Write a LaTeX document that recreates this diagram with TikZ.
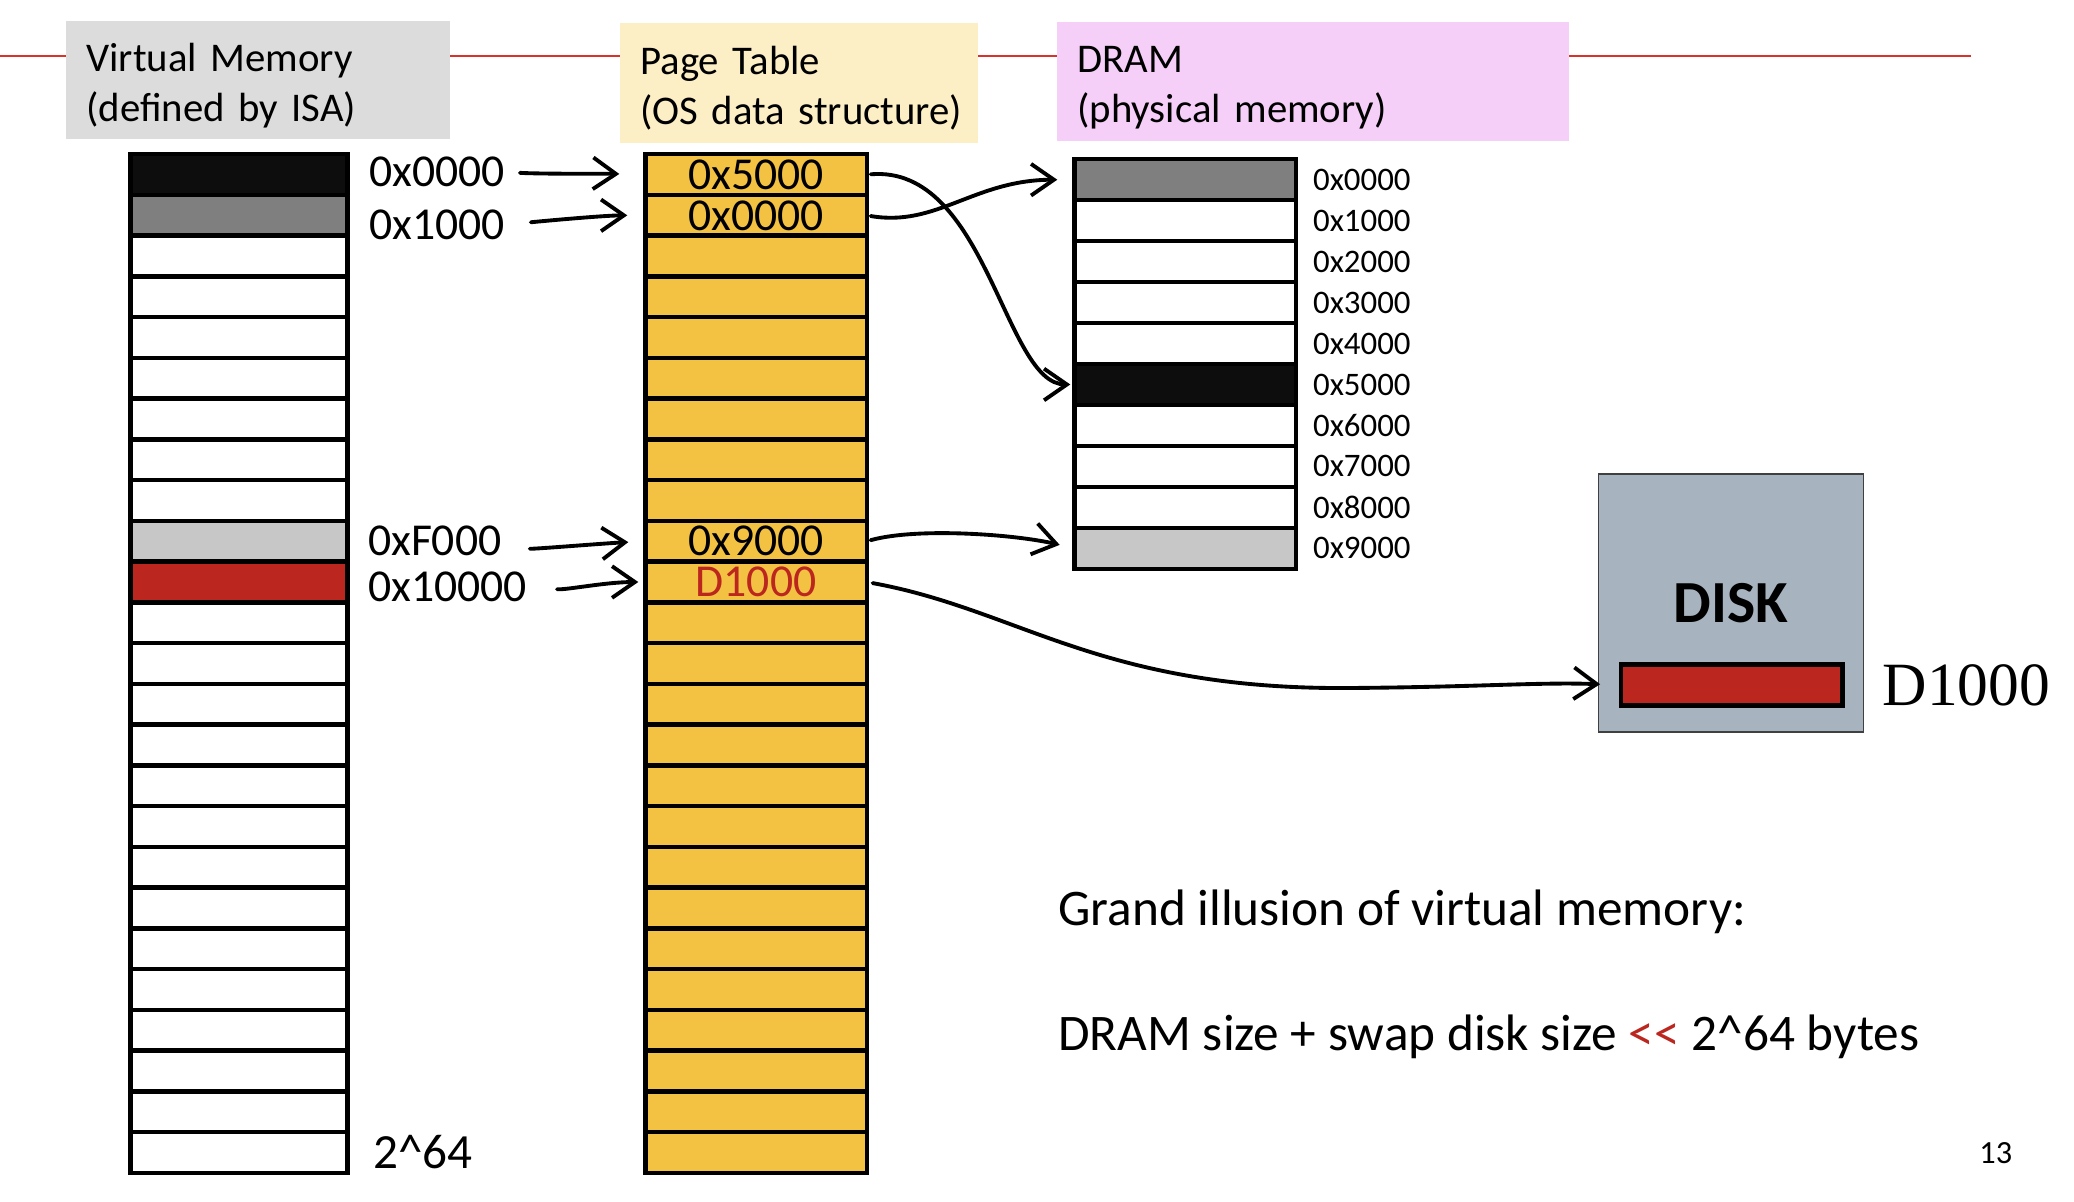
\documentclass[tikz,border=0pt]{standalone}
\usepackage{fontspec}
\setmainfont{Carlito}
\newfontfamily\timesfont{Liberation Serif}
\usepackage{tikz}
\usetikzlibrary{arrows.meta,positioning}
\definecolor{memred}{HTML}{BB271F}
\definecolor{ptgold}{HTML}{F4C243}
\definecolor{vmblack}{HTML}{0D0D0D}
\definecolor{vmdark}{HTML}{7F7F7F}
\definecolor{vmlight}{HTML}{C7C7C7}
\definecolor{vmhead}{HTML}{DCDCDC}
\definecolor{pthead}{HTML}{FCEFC6}
\definecolor{drhead}{HTML}{F5CFF8}
\definecolor{diskblue}{HTML}{A8B3C0}
\definecolor{rulered}{HTML}{D9312B}
\def\hdrht{\rule{0pt}{0.94em}}

\begin{document}
\begin{tikzpicture}
[x=0.02cm, y=-0.02cm,
 cell/.style={draw, rectangle, line width=2.55pt, minimum width=4.43cm, minimum height=0.815cm, inner sep=0pt, outer sep=0pt},
 hdr/.style={rectangle, anchor=north west, inner xsep=0.4cm, inner ysep=0pt, align=left, font=\fontsize{23.2pt}{28.3pt}\selectfont},
 adr/.style={inner sep=0pt, font=\fontsize{26pt}{31pt}\selectfont},
 dradr/.style={inner sep=0pt, font=\fontsize{18.7pt}{22pt}\selectfont},
 txt/.style={inner sep=0pt, anchor=base west, font=\fontsize{29.2pt}{35pt}\selectfont},
 disk/.style={draw=black!75, line width=0.8pt, fill=diskblue, minimum width=5.31cm, minimum height=5.16cm, font=\bfseries\fontsize{34pt}{40pt}\selectfont},
 arr/.style={line width=2.2pt, line cap=round, -{Straight Barb[length=13pt, width=18pt, line width=2.2pt]}}]
\path[fill=white] (0,0) rectangle (2074,1202);
\useasboundingbox (0,0) rectangle (2074,1202);
\draw[rulered, line width=1.3pt] (0,56) -- (1971,56);
\node (vmhdr) [hdr, fill=vmhead, minimum width=7.68cm, minimum height=2.36cm, text width=6.88cm] at (66,21) {\hdrht\mbox{Virtual Memory}\\\mbox{(defined by ISA)}};
\node (pthdr) [hdr, fill=pthead, minimum width=7.16cm, minimum height=2.4cm, text width=6.36cm] at (620,23) {\hdrht\mbox{Page Table}\\\mbox{(OS data structure)}};
\node (drhdr) [hdr, fill=drhead, minimum width=10.24cm, minimum height=2.38cm, text width=9.44cm] at (1057,22) {\hdrht\mbox{DRAM}\\\mbox{(physical memory)}};
%
\foreach \c [count=\i] in {vmblack,vmdark,white,white,white,white,white,white,white,vmlight,memred,white,white,white,white,white,white,white,white,white,white,white,white,white,white}
  \node (vm\i) [cell, fill=\c, minimum width=4.35cm] at (239,{154.25+(\i-0.5)*40.74}) {};
\foreach \i in {1,...,25}
  \node (pt\i) [cell, fill=ptgold] at (756,{154.25+(\i-0.5)*40.74}) {};
\foreach \c [count=\i] in {vmdark,white,white,white,white,vmblack,white,white,white,vmlight}
  \node (dr\i) [cell, fill=\c, minimum height=0.819cm] at (1185,{159.25+(\i-0.5)*40.95}) {};
\foreach \i [count=\a from 0] in {1,...,10}
  \node (drl\i) [dradr, right=0.34cm of dr\i] {0x\a000};
%
\node (vl1) [adr, right=0.42cm of vm1, yshift=0.05cm] {0x0000};
\node (vl2) [adr, right=0.42cm of vm2, yshift=-0.19cm] {0x1000};
\node (vlF) [adr, right=0.4cm of vm10] {0xF000};
\node (vlX) [adr, right=0.4cm of vm11, yshift=-0.1cm] {0x10000};
\node (vl64) [adr, right=0.5cm of vm25, font=\fontsize{28pt}{33pt}\selectfont] {2\textasciicircum 64};
\node (ptl1) [adr] at (pt1) {0x5000};
\node (ptl2) [adr] at (pt2) {0x0000};
\node (ptl10) [adr] at (pt10) {0x9000};
\node (ptl11) [adr, text=memred] at (pt11) {D1000};
%
\node (disk) [disk] at (1731,603) {DISK};
\node (bar) [cell, fill=memred] at (1731.75,685) {};
\node (barl) [inner sep=0pt, right=0.8cm of bar, font=\timesfont\fontsize{35pt}{40pt}\selectfont] {D1000};
%
\node (illus) [txt] at (1058,925) {Grand illusion of virtual memory:};
\node (swap) [txt] at (1058,1050) {DRAM size + swap disk size \textcolor{memred}{<\kern0pt<} 2\textasciicircum 64 bytes};
\node (pgno) [txt, font=\fontsize{18.4pt}{22pt}\selectfont] at (1979,1163) {13};
%
\draw[arr, shorten <=0.3cm, shorten >=0.52cm] (vl1.east) .. controls +(40,2) and +(-40,-1) .. (pt1.west);
\draw[arr, shorten <=0.52cm, shorten >=0.36cm] (vl2.east) .. controls +(40,-4) and +(-40,0) .. (pt2.west);
\draw[arr, shorten <=0.58cm, shorten >=0.34cm] (vlF.east) .. controls +(30,8) and +(-40,2) .. (pt10.west);
\draw[arr, shorten <=0.6cm, shorten >=0.14cm] (vlX.east) .. controls +(40,3) and +(-40,0) .. (pt11.west);
\draw[arr, shorten <=0.08cm, shorten >=0.08cm] (pt1.east) .. controls +(120,-10) and +(-70,0) .. (dr6.west);
\draw[arr, shorten <=0.08cm, shorten >=0.34cm] (pt2.east) .. controls +(70,12) and +(-100,0) .. (dr1.west);
\draw[arr, shorten <=0.08cm, shorten >=0.3cm] (pt10.east) .. controls +(50,-14) and +(-60,-14) .. (dr10.west);
\draw[arr, shorten <=0.12cm, shorten >=0.42cm] (pt11.east) .. controls (1020,610) and (1100,690) .. (1350,688) .. controls (1480,687) and (1540,682) .. (bar.west);
\end{tikzpicture}
\end{document}
